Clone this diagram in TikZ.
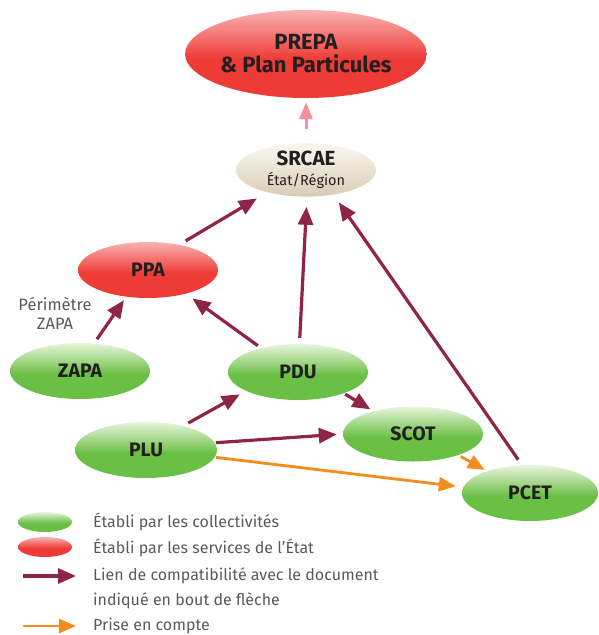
\documentclass[tikz,border=0pt]{standalone}
\usepackage{fontspec}
\setmainfont{Fira Sans}
\usetikzlibrary{arrows.meta,shapes.geometric}
\definecolor{gT}{HTML}{E8F5DC}
\definecolor{gB}{HTML}{6ABF45}
\definecolor{rT}{HTML}{F9B2B2}
\definecolor{rB}{HTML}{EE3B35}
\definecolor{bT}{HTML}{F8F4EC}
\definecolor{bB}{HTML}{D8CCB4}
\definecolor{compat}{HTML}{8E2449}
\definecolor{prisecol}{HTML}{F68B1F}
\definecolor{pinkcol}{HTML}{F4909C}
\definecolor{txt}{HTML}{231F20}
\definecolor{leg}{HTML}{5A5A5A}
\pgfdeclareverticalshading{greenell}{100bp}{color(0bp)=(gB); color(47bp)=(gB); color(75bp)=(gT); color(100bp)=(gT)}
\pgfdeclareverticalshading{redell}{100bp}{color(0bp)=(rB); color(47bp)=(rB); color(75bp)=(rT); color(100bp)=(rT)}
\pgfdeclareverticalshading{beigeell}{100bp}{color(0bp)=(bB); color(25bp)=(bB); color(70bp)=(bT); color(100bp)=(bT)}
\tikzset{
  ell/.style={ellipse, inner sep=0pt, text=txt, font=\bfseries\fontsize{19.5}{21}\selectfont,
    minimum width=140pt, minimum height=56pt},
  gnode/.style={ell, shade, shading=greenell},
  rnode/.style={ell, shade, shading=redell},
  bnode/.style={ell, shade, shading=beigeell},
  comp/.style={draw=compat, line width=3.2pt, -{Triangle[length=18pt,width=15pt]}},
  prise/.style={draw=prisecol, line width=2.8pt, -{Triangle[length=17pt,width=14pt]}},
  pinkarr/.style={draw=pinkcol, line width=3pt, -{Triangle[length=17pt,width=13pt]}},
  legtxt/.style={anchor=west, inner sep=0pt, text=leg, font=\fontsize{16}{18}\selectfont},
}
\begin{document}
\begin{tikzpicture}[x=1pt,y=-1pt]
\useasboundingbox (0,0) rectangle (598,635);
% nodes
\node[rnode, minimum width=230pt, minimum height=88pt, align=center,
      font=\bfseries\fontsize{22}{23}\selectfont] (prepa) at (306,54) {PREPA\\\& Plan Particules};
\node[bnode, minimum width=140pt, minimum height=46pt, align=center] (srcae) at (306,170)
  {{\fontsize{20.5}{19}\bfseries SRCAE}\\[-1pt]{\fontsize{14.5}{16}\mdseries\selectfont État/Région}};
\node[rnode] (ppa) at (148,270) {PPA};
\node[gnode] (zapa) at (80,371) {ZAPA};
\node[gnode] (pdu) at (298,372) {PDU};
\node[gnode, minimum width=142pt] (plu) at (146,450) {PLU};
\node[gnode, minimum height=55pt] (scot) at (413,434) {SCOT};
\node[gnode, minimum width=136pt] (pcet) at (530,493) {PCET};
\node[align=center, text=leg, font=\fontsize{16.5}{19}\selectfont] (perim) at (55,313) {Périmètre\\ZAPA};
% connectors
\draw[pinkarr, shorten <=14pt, shorten >=4pt] (srcae.north) -- (prepa.south);
\draw[comp, shorten <=7.5pt, shorten >=12pt] (ppa.39) -- (srcae.210);
\draw[comp, shorten <=6pt, shorten >=10pt] (pdu.87) -- (srcae.272);
\draw[comp, shorten <=6.5pt, shorten >=9.5pt] (pcet.106) -- (srcae.318);
\draw[comp, shorten <=5pt, shorten >=4pt] (zapa.63) -- (ppa.231);
\draw[comp, shorten <=4pt, shorten >=8pt] (pdu.147) -- (ppa.328);
\draw[comp, shorten <=6pt, shorten >=7pt] (plu.33) -- (pdu.200);
\draw[comp, shorten <=1.6pt, shorten >=3.5pt] (pdu.335) -- (scot.150);
\draw[comp, shorten <=1pt, shorten >=6pt] (plu.6) -- (scot.180);
\draw[prise, shorten <=1pt, shorten >=7.5pt] (plu.354) -- (pcet.175);
\draw[prise, shorten <=2.7pt, shorten >=2.5pt] (scot.335) -- (pcet.153);
% legend
\node[gnode, minimum width=54pt, minimum height=20pt] (lg1) at (45,522) {};
\node[rnode, minimum width=54pt, minimum height=20pt] (lg2) at (45,547) {};
\coordinate (la1) at (23,576); \coordinate (lb1) at (76,576);
\coordinate (la2) at (23,626); \coordinate (lb2) at (76,626);
\draw[comp] (la1) -- (lb1);
\draw[prise] (la2) -- (lb2);
\node[legtxt] (t1) at (93,522) {Établi par les collectivités};
\node[legtxt] (t2) at (93,548) {Établi par les services de l’État};
\node[legtxt] (t3) at (93,576) {Lien de compatibilité avec le document};
\node[legtxt] (t4) at (93,601) {indiqué en bout de flèche};
\node[legtxt] (t5) at (93,626) {Prise en compte};
\end{tikzpicture}
\end{document}
